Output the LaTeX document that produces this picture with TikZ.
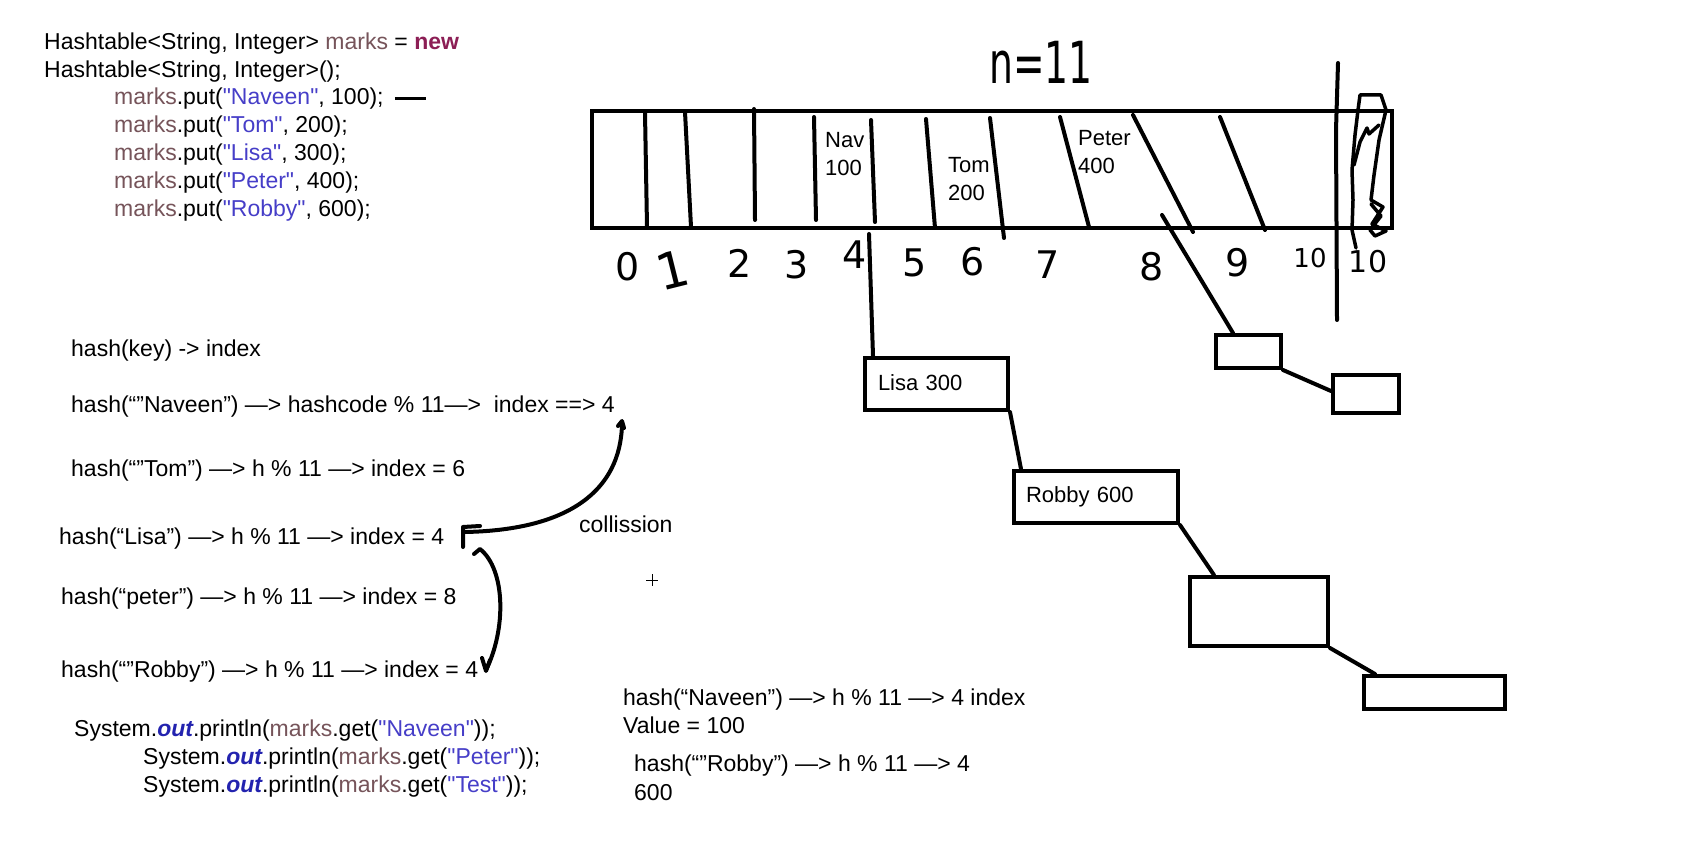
\documentclass[tikz,border=0pt]{standalone}
\usepackage{fontspec}
\setmainfont{Liberation Sans}
\newfontfamily\handfont{DejaVu Sans}
\definecolor{varc}{RGB}{118,84,90}
\definecolor{keyc}{RGB}{140,30,85}
\definecolor{strc}{RGB}{70,62,200}
\definecolor{fldc}{RGB}{35,35,175}
% straight double quote, taken straight from the font (no TeX mapping)
\newcommand\sq{\XeTeXglyph\XeTeXcharglyph"22\relax}
\newcommand\jvar{\textcolor{varc}{marks}}
\newcommand\jstr[1]{\textcolor{strc}{\sq #1\sq}}
\newcommand\jout{\textcolor{fldc}{\bfseries\itshape out}}
\begin{document}
\begin{tikzpicture}[x=1pt,y=-1pt,
  txt/.style={anchor=base west, inner sep=0pt, font=\fontsize{23}{28}\selectfont},
  celltxt/.style={anchor=west, inner sep=0pt, align=left, font=\fontsize{22}{28}\selectfont},
  hand/.style={inner sep=0pt, font=\handfont\fontsize{38}{40}\selectfont},
  pen/.style={line width=4pt, line cap=round, line join=round},
  chainbox/.style={draw, line width=4pt, inner sep=0pt, minimum width=#1},
  chainbox/.default=60pt]
\fill[white] (0,0) rectangle (1691,858);
\useasboundingbox (0,0) rectangle (1691,858);

% ---- Java source ----
\node[txt] (l1) at (44,50) {Hashtable<String, Integer> \jvar{} = \textcolor{keyc}{\bfseries new}};
\node[txt] (l2) at (44,78) {Hashtable<String, Integer>();};
\node[txt] (p1) at (114,105) {\jvar.put(\jstr{Naveen}, 100);};
\node[txt] (p2) at (114,133) {\jvar.put(\jstr{Tom}, 200);};
\node[txt] (p3) at (114,161) {\jvar.put(\jstr{Lisa}, 300);};
\node[txt] (p4) at (114,189) {\jvar.put(\jstr{Peter}, 400);};
\node[txt] (p5) at (114,217) {\jvar.put(\jstr{Robby}, 600);};
\draw[line width=3pt] ([xshift=11pt,yshift=1pt]p1.east) -- ++(31,0);

% ---- hashing notes ----
\node[txt] (hk) at (71,356) {hash(key) -> index};
\node[txt] (h1) at (71,412) {hash(“”Naveen”) —> hashcode \% 11—>\ \ index ==> 4};
\node[txt] (h2) at (71,476) {hash(“”Tom”) —> h \% 11 —> index = 6};
\node[txt] (h3) at (59,544) {hash(“Lisa”) —> h \% 11 —> index = 4};
\node[txt] (h4) at (61,604) {hash(“peter”) —> h \% 11 —> index = 8};
\node[txt] (h5) at (61,677) {hash(“”Robby”) —> h \% 11 —> index = 4};
\node[txt] (col) at (579,532) {collission};

\node[txt] (s1) at (74,736) {System.\jout.println(\jvar.get(\jstr{Naveen}));};
\node[txt] (s2) at (143,764) {System.\jout.println(\jvar.get(\jstr{Peter}));};
\node[txt] (s3) at (143,792) {System.\jout.println(\jvar.get(\jstr{Test}));};

\node[txt] (q1) at (623,705) {hash(“Naveen”) —> h \% 11 —> 4 index};
\node[txt] (q2) at (623,733) {Value = 100};
\node[txt] (q3) at (634,771) {hash(“”Robby”) —> h \% 11 —> 4};
\node[txt] (q4) at (634,800) {600};

% small cursor cross
\draw[line width=1pt] (646,580) -- (658,580) (652,574) -- (652,586);

% collision arrows
\coordinate (c1a) at (622,425);
\coordinate (c1b) at (465,532);
\draw[pen] (c1a) .. controls (620,490) and (570,530) .. (c1b);
\draw[pen] (618,426) -- (622,421) -- (624,428);
\draw[pen] (463,527) -- (463,547) (463,527) -- (480,526);
\coordinate (c2a) at (474,554);
\coordinate (c2b) at (486,670);
\draw[pen] (c2a) -- (480,549) .. controls (506,570) and (506,630) .. (c2b);
\draw[pen] (482,658) -- (486,671) -- (490,660);

% ---- bucket array ----
\node[draw, line width=4pt, inner sep=0pt, minimum width=800pt, minimum height=117pt] (arr) at (992,169.5) {};
\draw[pen] (645,113) -- (647,227);
\draw[pen] (685,112) -- (691,227);
\draw[pen] (754,109) -- (755,220);
\draw[pen] (814,117) -- (816,220);
\draw[pen] (871,120) -- (875,222);
\draw[pen] (926,119) -- (935,228);
\draw[pen] (990,118) -- (1004,238);
\draw[pen] (1060,117) -- (1089,227);
\draw[pen] (1133,115) -- (1193,232);
\draw[pen] (1220,117) -- (1265,230);
\draw[pen] (1338,63) -- (1336,130) -- (1337,320);
% scribbled-out last cell
\draw[pen, line width=3.5pt] (1356,248) -- (1352,230) -- (1353,200) -- (1352,170) -- (1355,135)
  -- (1358,110) -- (1360,95) -- (1381,95) -- (1386,110) -- (1379,140) -- (1374,175)
  -- (1371,200) -- (1383,207) -- (1372,224) -- (1386,231) -- (1375,236) -- (1370,230)
  -- (1381,216) -- (1371,204);
\draw[pen, line width=3.5pt] (1354,165) -- (1360,142) -- (1367,128) -- (1369,134) -- (1379,125);

\node[celltxt] (nav) at (825,154) {Nav\\100};
\node[celltxt] (tom) at (948,179) {Tom\\200};
\node[celltxt] (pet) at (1078,152) {Peter\\400};

% bucket indices
\node[hand] (i0) at (628,267) {0};
\node[hand, rotate=14, font=\handfont\fontsize{50}{50}\selectfont] (i1) at (673,270) {1};
\node[hand] (i2) at (740,263) {2};
\node[hand] (i3) at (797,265) {3};
\node[hand] (i4) at (855,255) {4};
\node[hand] (i5) at (915,263) {5};
\node[hand] (i6) at (973,262) {6};
\node[hand] (i7) at (1048,265) {7};
\node[hand] (i8) at (1152,267) {8};
\node[hand] (i9) at (1238,263) {9};
\node[hand, font=\handfont\fontsize{26}{26}\selectfont] (i10) at (1310,258) {10};
\node[hand, font=\handfont\fontsize{30}{30}\selectfont] (i10b) at (1368,262) {10};
\node[hand, xscale=0.65, font=\handfont\fontsize{58}{58}\selectfont] (size) at (1041,62) {n=11};

% ---- chained entries ----
\node[chainbox=143pt, minimum height=52pt, text width=117pt, align=left,
      font=\fontsize{22}{26}\selectfont] (lisa) at (936.5,384) {\raisebox{3pt}{Lisa 300}};
\node[chainbox=164pt, minimum height=52pt, text width=140pt, align=left,
      font=\fontsize{22}{26}\selectfont] (robby) at (1096,497) {\raisebox{-3pt}{Robby 600}};
\node[chainbox=138pt, minimum height=69pt] (b3) at (1259,611.5) {};
\node[chainbox=141pt, minimum height=33pt] (b4) at (1434.5,692.5) {};
\node[chainbox=65pt, minimum height=33pt] (b1) at (1248.5,351.5) {};
\node[chainbox=66pt, minimum height=38pt] (b2) at (1366,394) {};

\coordinate (from4) at (869,234);
\coordinate (from8) at (1162,215);
\draw[pen] (from4) -- ([xshift=10pt]lisa.north west);
\draw[pen] (lisa.south east) -- ([xshift=9pt]robby.north west);
\draw[pen] (robby.south east) -- ([xshift=26pt]b3.north west);
\draw[pen] (b3.south east) -- ([xshift=13pt]b4.north west);
\draw[pen] (from8) -- ([xshift=19pt]b1.north west);
\draw[pen] (b1.south east) -- ([yshift=3pt]b2.west);
\end{tikzpicture}
\end{document}
